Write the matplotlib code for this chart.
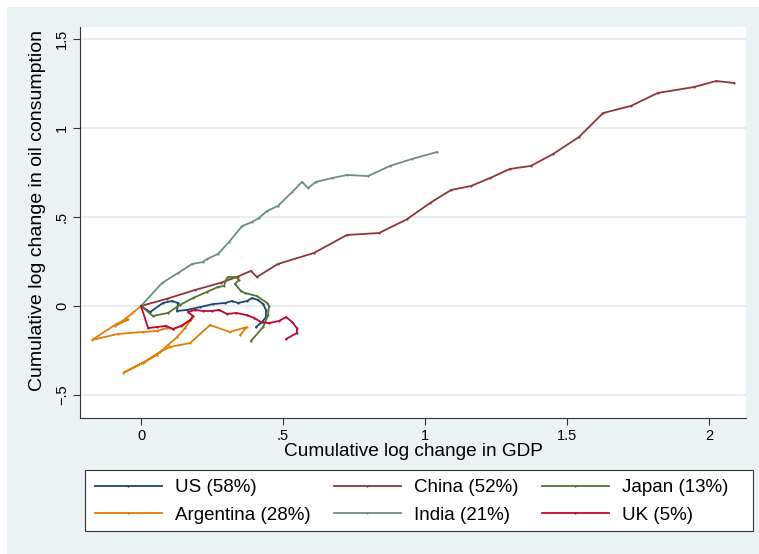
import matplotlib
matplotlib.use("Agg")
import matplotlib.pyplot as plt
from matplotlib.patches import Rectangle
from matplotlib.ticker import FixedLocator, FixedFormatter

plt.rcParams['font.family'] = ['Liberation Sans', 'DejaVu Sans']

# Cumulative log change in GDP (x) and in oil consumption (y), by country
us_x = [0, 0.032, 0.077, 0.109, 0.130, 0.127, 0.162, 0.208, 0.254, 0.296, 0.320,
        0.342, 0.373, 0.391, 0.412, 0.430, 0.440, 0.440, 0.426, 0.405]
us_y = [0, -0.034, 0.017, 0.028, 0.017, -0.028, -0.022, -0.006, 0.011, 0.017, 0.028,
        0.017, 0.028, 0.045, 0.034, 0.011, -0.022, -0.062, -0.090, -0.118]

china_x = [0, 0.09, 0.19, 0.28, 0.34, 0.387, 0.408, 0.482, 0.609, 0.725, 0.838,
           0.935, 1.018, 1.092, 1.162, 1.229, 1.299, 1.373, 1.451, 1.542, 1.627,
           1.725, 1.820, 1.947, 2.025, 2.088]
china_y = [0, 0.04, 0.09, 0.13, 0.165, 0.197, 0.163, 0.236, 0.298, 0.399, 0.410,
           0.486, 0.579, 0.652, 0.674, 0.719, 0.770, 0.787, 0.854, 0.949, 1.084,
           1.124, 1.197, 1.230, 1.264, 1.253]

japan_x = [0, 0.042, 0.095, 0.137, 0.183, 0.232, 0.271, 0.292, 0.299, 0.306, 0.335,
           0.345, 0.331, 0.352, 0.366, 0.408, 0.444, 0.451, 0.447, 0.430, 0.387]
japan_y = [0, -0.056, -0.039, 0.006, 0.045, 0.079, 0.107, 0.112, 0.146, 0.163, 0.163,
           0.146, 0.124, 0.084, 0.073, 0.056, 0.017, 0.0, -0.051, -0.118, -0.197]

argentina_x = [0, -0.03, -0.07, -0.09, -0.045, -0.085, -0.173, -0.081, 0.007, 0.056,
               0.092, 0.113, 0.148, 0.173, 0.180, 0.155, 0.127, 0.095, 0.056, 0.007,
               -0.063, 0.010, 0.067, 0.102, 0.173, 0.243, 0.313, 0.359, 0.373, 0.349]
argentina_y = [0, -0.04, -0.09, -0.11, -0.075, -0.10, -0.191, -0.157, -0.146, -0.140,
               -0.124, -0.129, -0.107, -0.079, -0.067, -0.124, -0.174, -0.219, -0.275,
               -0.320, -0.376, -0.315, -0.258, -0.230, -0.208, -0.107, -0.146, -0.124,
               -0.118, -0.163]

india_x = [0, 0.074, 0.130, 0.180, 0.218, 0.232, 0.271, 0.310, 0.356, 0.391, 0.415,
           0.444, 0.482, 0.532, 0.567, 0.588, 0.616, 0.673, 0.725, 0.799, 0.877,
           0.954, 1.042]
india_y = [0, 0.129, 0.185, 0.236, 0.247, 0.264, 0.292, 0.360, 0.449, 0.472, 0.494,
           0.534, 0.562, 0.640, 0.697, 0.663, 0.697, 0.719, 0.736, 0.730, 0.787,
           0.826, 0.865]

uk_x = [0, 0.025, 0.056, 0.088, 0.113, 0.141, 0.173, 0.183, 0.165, 0.190, 0.218,
        0.250, 0.275, 0.303, 0.335, 0.373, 0.398, 0.423, 0.451, 0.486, 0.511,
        0.532, 0.549, 0.549, 0.511]
uk_y = [0, -0.124, -0.118, -0.112, -0.129, -0.112, -0.079, -0.056, -0.034, -0.022,
        -0.028, -0.028, -0.022, -0.045, -0.039, -0.051, -0.067, -0.090, -0.096,
        -0.084, -0.062, -0.090, -0.124, -0.152, -0.185]

series = [
    ("US (58%)", us_x, us_y, "#1a476f"),
    ("China (52%)", china_x, china_y, "#90353b"),
    ("Japan (13%)", japan_x, japan_y, "#55752f"),
    ("Argentina (28%)", argentina_x, argentina_y, "#e37e00"),
    ("India (21%)", india_x, india_y, "#6e8e84"),
    ("UK (5%)", uk_x, uk_y, "#c10534"),
]

x_ticks = [0, 0.5, 1, 1.5, 2]
x_tick_labels = ["0", ".5", "1", "1.5", "2"]
y_ticks = [-0.5, 0, 0.5, 1, 1.5]
y_tick_labels = ["\u2212.5", "0", ".5", "1", "1.5"]

W, H = 759, 554
fig = plt.figure(figsize=(W / 100, H / 100), dpi=100, facecolor="white")
# light graph region with a thin white margin on the top and left
fig.patches.append(Rectangle((7 / W, 0), 1, 1 - 7 / H, transform=fig.transFigure,
                             facecolor="#eaf2f3", edgecolor="none", zorder=-10))

ax = fig.add_axes([80 / W, 1 - 418 / H, (746 - 80) / W, (418 - 27) / H])
ax.set_facecolor("white")

handles = {}
for label, xs, ys, color in series:
    ln, = ax.plot(xs, ys, color=color, lw=1.3, marker="o", markersize=1.6,
                  markeredgewidth=0, label=label, solid_joinstyle="miter")
    handles[label] = ln

ax.set_xlim(-0.2148, 2.1303)
ax.set_ylim(-0.6292, 1.5674)

ax.xaxis.set_major_locator(FixedLocator(x_ticks))
ax.xaxis.set_major_formatter(FixedFormatter(x_tick_labels))
ax.yaxis.set_major_locator(FixedLocator(y_ticks))
ax.yaxis.set_major_formatter(FixedFormatter(y_tick_labels))

ax.grid(axis="y", color="#e6eef0", lw=1.4)
ax.set_axisbelow(True)
for s in ("top", "right"):
    ax.spines[s].set_visible(False)
for s in ("left", "bottom"):
    ax.spines[s].set_color("#333333")
    ax.spines[s].set_linewidth(0.8)

ax.tick_params(axis="both", direction="out", length=5, width=0.8, color="#333333",
               labelsize=10.5, pad=3)
for lab in ax.get_yticklabels():
    lab.set_rotation(90)
    lab.set_va("center")

ax.set_xlabel("Cumulative log change in GDP", fontsize=13.7, labelpad=0)
ax.set_ylabel("Cumulative log change in oil consumption", fontsize=14)
ax.yaxis.set_label_coords(-0.051, 0.53)

# legend box below the plot
fig.patches.append(Rectangle((85 / W, 1 - 531 / H), (753 - 85) / W, (531 - 470) / H,
                             transform=fig.transFigure, facecolor="white",
                             edgecolor="#333333", lw=0.8, zorder=1))
order = ["US (58%)", "Argentina (28%)", "China (52%)", "India (21%)",
         "Japan (13%)", "UK (5%)"]
leg = fig.legend([handles[k] for k in order], order, ncol=3,
                 loc="center left", bbox_to_anchor=(95 / W, 1 - 501.5 / H),
                 fontsize=13.5, frameon=False, handlelength=3.57, handletextpad=0.69,
                 borderpad=0, labelspacing=0.55, borderaxespad=0,
                 columnspacing=1.25)

fig.savefig("out.png", dpi=100, facecolor=fig.get_facecolor())
